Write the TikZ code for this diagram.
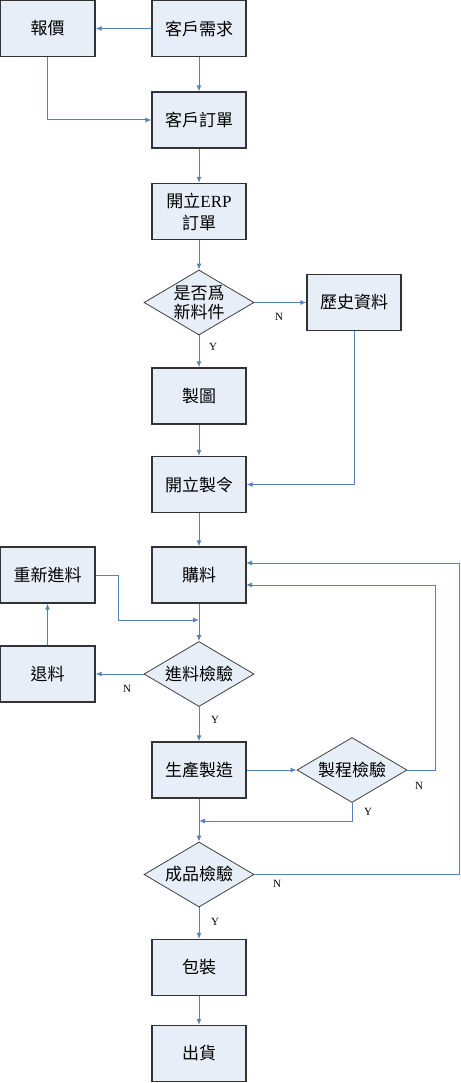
\documentclass[tikz,border=0pt]{standalone}
\usepackage{fontspec}
\setmainfont{Liberation Serif}
\newfontfamily\cjk{Noto Sans CJK TC}
\usetikzlibrary{shapes.geometric,arrows.meta}
\definecolor{boxfill}{RGB}{232,238,247}
\definecolor{flowblue}{RGB}{84,130,190}
\tikzset{
  stepbox/.style={draw=black!80, line width=1.3pt, fill=boxfill,
    minimum width=94pt, minimum height=56pt, inner sep=0pt, align=center,
    font=\cjk\fontsize{17}{22}\selectfont},
  decision/.style={diamond, draw=black!75, line width=0.8pt, fill=boxfill,
    aspect=1.7, minimum width=110pt, minimum height=65pt, inner sep=0pt,
    align=center, font=\cjk\fontsize{17}{19}\selectfont},
  flow/.style={draw=flowblue, line width=1pt, -{Latex[length=6pt,width=5pt]}},
  yn/.style={font=\fontsize{11}{11}\selectfont, inner sep=0pt}
}
\begin{document}
\begin{tikzpicture}[x=1pt,y=-1pt]
  \useasboundingbox (0,0) rectangle (460,1083);
  % main column
  \node[stepbox] (need) at (199,28.5) {客戶需求};
  \node[stepbox, minimum width=95pt] (quote) at (47.5,28.5) {報價};
  \node[stepbox] (order) at (199,120) {客戶訂單};
  \node[stepbox] (erp) at (199,211.5) {開立{\rmfamily ERP}\\訂單};
  \node[decision] (newpart) at (199,302.5) {是否爲\\新料件};
  \node[stepbox] (hist) at (354,302.5) {歷史資料};
  \node[stepbox] (drawing) at (199,396) {製圖};
  \node[stepbox] (mo) at (199,484.5) {開立製令};
  \node[stepbox] (buy) at (199,575) {購料};
  \node[stepbox, minimum width=95pt] (redo) at (47.5,575) {重新進料};
  \node[stepbox, minimum width=95pt] (ret) at (47.5,674) {退料};
  \node[decision] (incheck) at (199,674) {進料檢驗};
  \node[stepbox] (make) at (199,770) {生產製造};
  \node[decision] (proc) at (352,770) {製程檢驗};
  \node[decision] (fin) at (199,874.5) {成品檢驗};
  \node[stepbox] (pack) at (199,967.5) {包裝};
  \node[stepbox] (ship) at (199,1053.5) {出貨};
  % join points on the lines and boxes
  \coordinate (m1) at (199,620);
  \coordinate (m2) at (199,821);
  \coordinate (b1) at (246,563);
  \coordinate (b2) at (246,585);
  % connectors
  \draw[flow] (need) -- (quote);
  \draw[flow] (need) -- (order);
  \draw[flow] (quote.south) |- (order.west);
  \draw[flow] (order) -- (erp);
  \draw[flow] (erp) -- (newpart);
  \draw[flow] (newpart) -- (hist);
  \draw[flow] (newpart) -- (drawing);
  \draw[flow] (drawing) -- (mo);
  \draw[flow] (hist.south) |- (mo.east);
  \draw[flow] (mo) -- (buy);
  \draw[flow] (buy) -- (incheck);
  \draw[flow] (redo.east) -- ++(23,0) |- (m1);
  \draw[flow] (incheck) -- (ret);
  \draw[flow] (ret) -- (redo);
  \draw[flow] (incheck) -- (make);
  \draw[flow] (make) -- (proc);
  \draw[flow] (proc.east) -- ++(28,0) |- (b2);
  \draw[flow] (proc.south) |- (m2);
  \draw[flow] (fin.east) -- ++(205,0) |- (b1);
  \draw[flow] (make) -- (fin);
  \draw[flow] (fin) -- (pack);
  \draw[flow] (pack) -- (ship);
  % Y / N labels
  \node[yn] (n1) at (279,317) {N};
  \node[yn] (y1) at (213,347) {Y};
  \node[yn] (n2) at (127,689) {N};
  \node[yn] (y2) at (215,720) {Y};
  \node[yn] (n3) at (419,786) {N};
  \node[yn] (y3) at (368,812) {Y};
  \node[yn] (n4) at (277,884) {N};
  \node[yn] (y4) at (215,922) {Y};
\end{tikzpicture}
\end{document}
